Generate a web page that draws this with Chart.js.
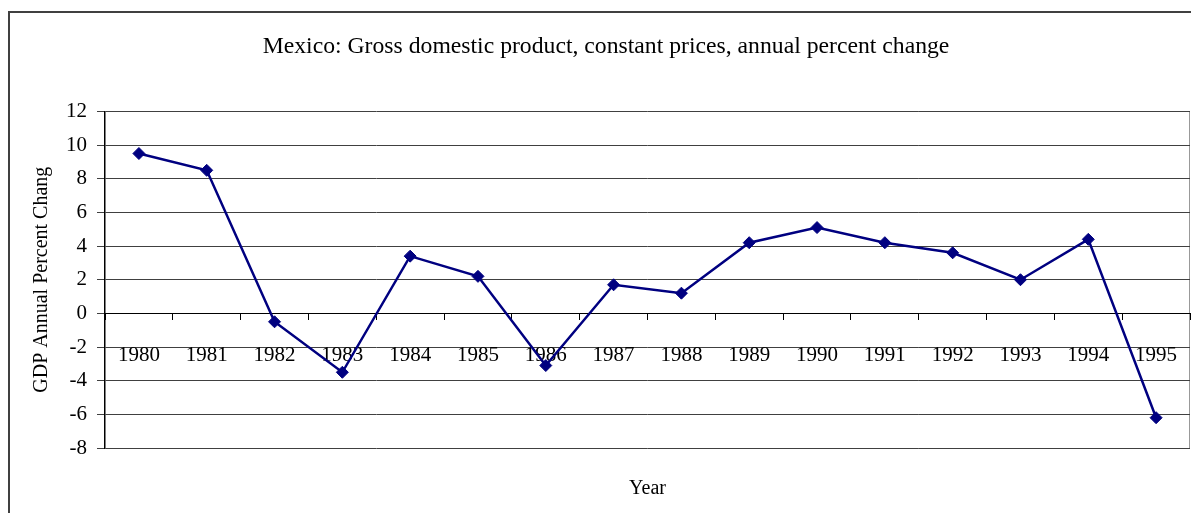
<!DOCTYPE html>
<html>
<head>
<meta charset="utf-8">
<script src="https://cdn.jsdelivr.net/npm/chart.js@4"></script>
<style>
    body { margin: 0; background: #fff; }
    #wrap { width: 1191px; height: 513px; position: relative; }
</style>
</head>
<body>
<div id="wrap"><canvas id="gdp-chart"></canvas></div>
<script>
// 数据
const years = ['1980', '1981', '1982', '1983', '1984', '1985', '1986', '1987',
               '1988', '1989', '1990', '1991', '1992', '1993', '1994', '1995'];
const gdpChange = [9.5, 8.5, -0.5, -3.5, 3.4, 2.2, -3.1, 1.7,
                   1.2, 4.2, 5.1, 4.2, 3.6, 2.0, 4.4, -6.2];
const yTicks = [-8, -6, -4, -2, 0, 2, 4, 6, 8, 10, 12];

const serif = 'Liberation Serif';

// 外框 + 绘图区右边线
const framePlugin = {
    id: 'frame',
    beforeDraw(chart) {
        const ctx = chart.ctx;
        const area = chart.chartArea;
        ctx.save();
        ctx.strokeStyle = '#404040';
        ctx.lineWidth = 2;
        ctx.beginPath();
        ctx.moveTo(9, chart.height);
        ctx.lineTo(9, 12);
        ctx.lineTo(chart.width, 12);
        ctx.stroke();
        ctx.strokeStyle = '#999';
        ctx.lineWidth = 1;
        ctx.beginPath();
        ctx.moveTo(area.right - 0.5, area.top);
        ctx.lineTo(area.right - 0.5, area.bottom);
        ctx.stroke();
        ctx.restore();
    }
};

new Chart(document.getElementById('gdp-chart').getContext('2d'), {
    type: 'line',
    data: {
        labels: years,
        datasets: [{
            label: 'GDP',
            data: gdpChange,
            borderColor: '#000080',
            backgroundColor: '#000080',
            borderWidth: 2.5,
            tension: 0,
            pointStyle: 'rectRot',
            pointRadius: 6,
            pointBorderWidth: 1,
            pointBorderColor: '#000080',
            pointBackgroundColor: '#000080'
        }]
    },
    options: {
        responsive: true,
        maintainAspectRatio: false,
        animation: false,
        layout: {
            autoPadding: false,
            padding: { left: 22, right: 1, top: 0, bottom: 0 }
        },
        plugins: {
            legend: { display: false },
            tooltip: { enabled: false },
            title: {
                display: true,
                text: 'Mexico: Gross domestic product, constant prices, annual percent change',
                color: '#000',
                font: { family: serif, size: 23.7, weight: 'normal' },
                padding: { top: 33, bottom: 50 }
            },
            subtitle: {
                display: true,
                position: 'bottom',
                fullSize: false,
                text: 'Year',
                color: '#000',
                font: { family: serif, size: 20, weight: 'normal' },
                padding: { top: 29, bottom: 12 }
            }
        },
        scales: {
            x: {
                type: 'category',
                position: { y: 0 },
                offset: true,
                afterFit(scale) {
                    scale.paddingLeft = 0;
                    scale.paddingRight = 0;
                },
                grid: {
                    offset: true,
                    drawOnChartArea: false,
                    drawTicks: true,
                    tickLength: 6,
                    color: '#000'
                },
                border: { color: '#000', width: 1 },
                ticks: {
                    color: '#000',
                    padding: 24,
                    maxRotation: 0,
                    autoSkip: false,
                    font: { family: serif, size: 21 }
                }
            },
            y: {
                min: -8,
                max: 12,
                afterBuildTicks(scale) {
                    scale.ticks = yTicks.map(v => ({ value: v }));
                },
                afterFit(scale) {
                    scale.width = 83;
                },
                grid: {
                    color: '#404040',
                    tickLength: 8
                },
                border: { color: '#000', width: 1.5 },
                ticks: {
                    color: '#000',
                    padding: 10,
                    font: { family: serif, size: 21 }
                },
                title: {
                    display: true,
                    text: 'GDP Annual Percent Chang',
                    color: '#000',
                    font: { family: serif, size: 20, weight: 'normal' },
                    padding: { top: 8, bottom: 0 }
                }
            }
        }
    },
    plugins: [framePlugin]
});
</script>
</body>
</html>
